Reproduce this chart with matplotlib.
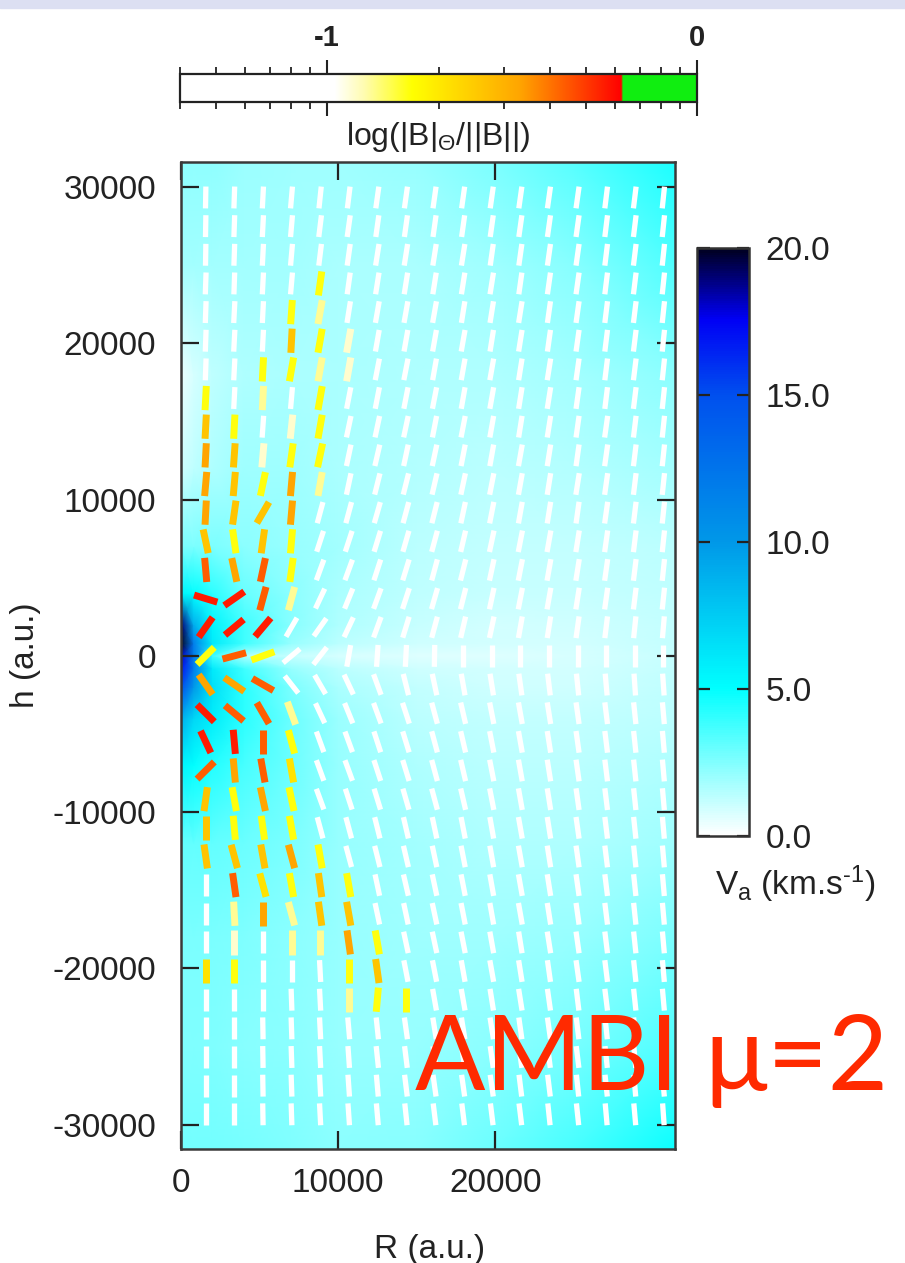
import numpy as np
import matplotlib
matplotlib.use('Agg')
import matplotlib.pyplot as plt
from matplotlib.colors import LinearSegmentedColormap, Normalize
from matplotlib.collections import LineCollection
from matplotlib.cm import ScalarMappable
from matplotlib.patches import Rectangle

plt.rcParams['font.family'] = ['Liberation Sans', 'DejaVu Sans']
plt.rcParams['axes.unicode_minus'] = False
plt.rcParams['mathtext.fontset'] = 'custom'
plt.rcParams['mathtext.rm'] = 'Liberation Sans'
plt.rcParams['mathtext.it'] = 'Liberation Sans:italic'

# ---------------- data ----------------
# Alfven speed V_a (km/s) on a coarse grid (rows: h from top to bottom)
bg_R = [0, 800, 2000, 4000, 7000, 10000, 15000, 20000, 25000, 31500]
bg_h = [31600, 25000, 18000, 12000, 7000, 4000, 2000, 800, 0,
        -800, -2000, -4000, -7000, -12000, -18000, -25000, -31600]
va_grid = [
    [2.2, 2.2, 2.2, 2.0, 1.9, 1.9, 2.1, 2.6, 3.3, 4.5],
    [1.8, 1.8, 1.8, 1.8, 1.8, 1.7, 1.7, 1.9, 2.4, 3.5],
    [0.4, 0.8, 1.3, 1.6, 1.7, 1.7, 1.6, 1.6, 1.8, 2.3],
    [1.0, 1.3, 1.6, 1.9, 1.9, 1.7, 1.5, 1.4, 1.5, 1.8],
    [2.6, 2.6, 2.6, 2.3, 2.1, 1.8, 1.4, 1.2, 1.2, 1.4],
    [5.5, 5.0, 4.2, 3.0, 2.3, 1.7, 1.3, 1.1, 1.1, 1.3],
    [19.0, 9.0, 5.5, 3.8, 2.4, 1.6, 1.1, 0.9, 1.0, 1.2],
    [20.0, 12.0, 6.0, 3.8, 2.1, 1.4, 1.0, 0.9, 0.9, 1.2],
    [18.0, 12.0, 3.8, 1.6, 1.1, 0.8, 0.7, 0.7, 0.8, 1.1],
    [17.0, 12.0, 6.0, 3.8, 2.1, 1.4, 1.0, 0.9, 0.9, 1.2],
    [15.0, 10.0, 6.5, 4.2, 2.6, 1.7, 1.2, 1.0, 1.0, 1.3],
    [9.0, 7.0, 5.8, 4.2, 2.9, 2.0, 1.4, 1.2, 1.2, 1.4],
    [5.5, 5.0, 4.3, 3.6, 2.9, 2.1, 1.6, 1.4, 1.4, 1.6],
    [3.1, 3.1, 3.1, 2.9, 2.6, 2.1, 1.8, 1.6, 1.6, 1.9],
    [2.6, 2.6, 2.6, 2.5, 2.3, 2.1, 1.9, 1.9, 2.1, 2.6],
    [2.5, 2.5, 2.5, 2.4, 2.3, 2.1, 2.1, 2.3, 2.7, 3.5],
    [2.8, 2.8, 2.8, 2.7, 2.5, 2.3, 2.4, 2.9, 3.6, 4.8],
]

# field-direction segments: grid of 17 columns x 33 rows
seg_R = np.linspace(1570, 30680, 17)
seg_h = np.linspace(29330, -29330, 33)

# tilt of each segment from vertical (deg, + means top leans to larger R)
tilt_deg = [
    [1, 2, 3, 5, 6, 7, 8, 8, 8, 8, 8, 8, 8, 8, 7, 7, 6],
    [1, 2, 3, 5, 7, 8, 8, 8, 8, 8, 8, 8, 8, 8, 7, 7, 6],
    [1, 2, 3, 5, 7, 8, 9, 9, 9, 9, 8, 8, 8, 8, 7, 7, 6],
    [2, 2, 3, 5, 8, 8, 9, 9, 9, 9, 9, 8, 8, 8, 7, 7, 6],
    [2, 3, 3, 4, 10, 9, 10, 10, 10, 9, 9, 9, 8, 8, 7, 7, 6],
    [2, 3, 3, 3, 10, 10, 10, 10, 10, 10, 9, 9, 8, 8, 7, 7, 6],
    [2, 3, 3, 10, 10, 10, 11, 11, 10, 10, 10, 9, 9, 8, 7, 7, 6],
    [3, 3, 3, 5, 10, 11, 11, 11, 11, 10, 10, 9, 9, 8, 7, 7, 6],
    [3, 3, 4, 6, 10, 12, 12, 12, 11, 11, 10, 9, 9, 8, 8, 7, 6],
    [3, 4, 5, 8, 12, 12, 13, 12, 12, 11, 10, 10, 9, 8, 8, 7, 6],
    [5, 5, 12, 5, 10, 12, 14, 14, 13, 12, 11, 10, 9, 9, 8, 7, 6],
    [3, 8, 30, 5, 15, 15, 16, 15, 14, 12, 11, 10, 9, 8, 8, 7, 6],
    [-12, -8, 8, 5, 18, 18, 17, 16, 15, 13, 12, 11, 10, 9, 8, 7, 6],
    [-5, -12, 12, 8, 20, 20, 18, 17, 15, 14, 12, 11, 10, 9, 8, 7, 6],
    [-73, 55, 15, 15, 25, 22, 20, 18, 16, 14, 12, 11, 10, 9, 8, 7, 6],
    [35, 50, 40, 30, 35, 25, 20, 17, 15, 13, 12, 10, 9, 8, 7, 6, 5],
    [45, 75, 70, 50, 38, 10, 4, 3, 1, 0, 0, 0, 0, 0, 0, 0, 0],
    [-35, -55, -60, -38, -30, -25, -20, -14, -12, -10, -9, -8, -7, -6, -5, -4, -4],
    [-45, -50, -30, -20, -25, -22, -20, -18, -15, -13, -11, -10, -9, -8, -7, -6, -5],
    [-25, -5, 0, -15, -20, -20, -18, -17, -15, -13, -11, -10, -9, -8, -7, -6, -5],
    [45, -5, -10, -10, -20, -20, -18, -17, -15, -13, -11, -10, -9, -8, -7, -6, -5],
    [8, -10, -12, -12, -20, -18, -17, -16, -15, -13, -11, -10, -9, -8, -7, -6, -5],
    [0, -5, -8, -10, -15, -15, -14, -13, -12, -11, -10, -10, -9, -8, -7, -6, -5],
    [-8, -15, -10, -15, -10, -15, -14, -13, -12, -11, -10, -10, -9, -8, -7, -6, -5],
    [0, -8, -15, -10, -8, -10, -12, -13, -12, -11, -10, -10, -9, -8, -7, -6, -5],
    [0, -3, 0, -15, -8, -10, -12, -12, -12, -11, -10, -10, -9, -8, -7, -6, -5],
    [0, 0, 0, 0, 0, -8, -10, -12, -12, -11, -10, -9, -9, -8, -7, -6, -5],
    [0, 0, 0, 0, -3, 0, -8, -11, -11, -10, -10, -9, -8, -8, -7, -6, -5],
    [0, 0, 0, -2, -3, 0, 5, 0, -10, -10, -9, -9, -8, -7, -7, -6, -5],
    [0, 0, -1, -2, -3, -5, -6, -8, -9, -9, -9, -8, -8, -7, -6, -6, -5],
    [0, 0, -1, -2, -3, -4, -6, -7, -8, -8, -8, -8, -7, -7, -6, -5, -5],
    [0, 0, -1, -2, -3, -4, -5, -7, -8, -8, -8, -7, -7, -6, -6, -5, -5],
    [0, 0, -1, -2, -3, -4, -5, -6, -7, -7, -7, -7, -6, -6, -5, -5, -4],
]

# log(|B|_theta/||B||) class of each segment ('.' = below -1, white)
ratio_class = [
    "", "", "",
    "....3",
    "...32",
    "...531",
    "..3321",
    "3.2.3",
    "53.13",
    "65133",
    "65362",
    "6556",
    "5353",
    "7673",
    "8872",
    "888",
    "373",
    "667",
    "8772",
    "8873",
    "7674",
    "5363",
    "5333",
    "55563",
    ".74353",
    ".26255",
    ".1.2263",
    "43...35",
    ".....233",
    "", "", "", "",
]
class_value = {'.': -1.25, '1': -0.93, '2': -0.88, '3': -0.78, '4': -0.68,
               '5': -0.58, '6': -0.48, '7': -0.36, '8': -0.25}

va_ticks = [0, 5, 10, 15, 20]
ratio_major = [0.1, 1.0]
ratio_minor = [0.04, 0.05, 0.06, 0.07, 0.08, 0.09,
               0.2, 0.3, 0.4, 0.5, 0.6, 0.7, 0.8, 0.9]

# ---------------- colormaps ----------------
va_cmap = LinearSegmentedColormap.from_list('va', [
    (0.0, '#ffffff'), (0.25, '#00ffff'), (0.5, '#0098e8'),
    (0.75, '#0050ee'), (0.88, '#0000f5'), (1.0, '#000020')])
va_norm = Normalize(0, 20)

rmin = np.log10(0.04)
def pos(v):
    return (v - rmin) / (0 - rmin)
ratio_cmap = LinearSegmentedColormap.from_list('ratio', [
    (0.0, '#ffffff'), (pos(-0.98), '#ffffff'), (pos(-0.9), '#fffcb0'),
    (pos(-0.77), '#ffff00'), (pos(-0.48), '#ffa500'), (pos(-0.205), '#ff0000'),
    (pos(-0.2), '#10ee10'), (1.0, '#10ee10')], N=2048)
ratio_norm = Normalize(rmin, 0)

# ---------------- figure ----------------
fig = plt.figure(figsize=(9.05, 12.63), dpi=100)
fig.add_artist(Rectangle((0, 1 - 8 / 1263), 1, 8 / 1263, transform=fig.transFigure,
                         color='#dcdff2', zorder=0))

ax = fig.add_axes([0.2, 0.09026, 0.54586, 0.78147])
Rg = np.array(bg_R, float)
hg = np.array(bg_h[::-1], float)
Vg = np.array(va_grid[::-1], float)
ax.pcolormesh(Rg, hg, Vg, shading='gouraud', cmap=va_cmap, norm=va_norm, zorder=0)

white_segs, col_segs, col_colors = [], [], []
for j, hj in enumerate(seg_h):
    row = ratio_class[j].ljust(17, '.')
    for i, Ri in enumerate(seg_R):
        a = np.deg2rad(tilt_deg[j][i])
        c = row[i]
        L = 1400 if c == '.' else 1550
        dx, dy = 0.5 * L * np.sin(a), 0.5 * L * np.cos(a)
        seg = [(Ri - dx, hj - dy), (Ri + dx, hj + dy)]
        if c == '.':
            white_segs.append(seg)
        else:
            col_segs.append(seg)
            col_colors.append(ratio_cmap(ratio_norm(class_value[c])))

ax.add_collection(LineCollection(white_segs, colors='white', linewidths=3.8,
                                 capstyle='butt', zorder=2))
ax.add_collection(LineCollection(col_segs, colors=col_colors, linewidths=5.0,
                                 capstyle='butt', zorder=3))

ax.set_xlim(0, 31420)
ax.set_ylim(-31550, 31600)
ax.set_xticks([0, 10000, 20000])
ax.set_yticks([-30000, -20000, -10000, 0, 10000, 20000, 30000])
ax.tick_params(direction='in', length=13, width=1.6, top=True, right=True,
               labelsize=24, colors='#222222')
ax.tick_params(axis='x', pad=14)
ax.tick_params(axis='y', pad=18)
for sp in ax.spines.values():
    sp.set_linewidth(1.8)
    sp.set_color('#3a3a3a')
ax.set_xlabel('R (a.u.)', fontsize=24, color='#222222')
ax.xaxis.set_label_coords(0.504, -0.102)
ax.xaxis.label.set_va('center')
ax.set_ylabel('h (a.u.)', fontsize=24, color='#222222')
ax.yaxis.set_label_coords(-0.315, 0.5)
ax.yaxis.label.set_va('center')

# right colorbar: V_a
cax = fig.add_axes([0.77017, 0.33808, 0.05746, 0.46556])
cb = fig.colorbar(ScalarMappable(va_norm, va_cmap), cax=cax, orientation='vertical')
cb.set_ticks(va_ticks)
cb.set_ticklabels(['%.1f' % t for t in va_ticks])
cb.outline.set_linewidth(1.8)
cb.outline.set_edgecolor('#333333')
cax.yaxis.set_ticks_position('both')
cax.tick_params(direction='in', length=9, width=1.6, left=True, right=True,
                labelleft=False, labelright=True, labelsize=24, pad=12,
                colors='#222222')
cax.set_xlabel(r'V$_\mathregular{a}$ (km.s$^{\text{-}1}$)', fontsize=24,
               color='#222222')
cax.xaxis.set_label_coords(1.885, -0.082)
cax.xaxis.label.set_va('center')

# top colorbar: log(|B|_theta/||B||)
tax = fig.add_axes([0.1989, 0.91924, 0.57127, 0.02217])
tb = fig.colorbar(ScalarMappable(ratio_norm, ratio_cmap), cax=tax, orientation='horizontal')
tb.set_ticks(np.log10(ratio_major))
tb.set_ticklabels(['-1', '0'])
tb.set_ticks(np.log10(ratio_minor), minor=True)
tb.outline.set_linewidth(1.6)
tb.outline.set_edgecolor('#222222')
tax.xaxis.set_ticks_position('both')
tax.tick_params(axis='x', which='major', direction='out', length=10, width=1.5,
                top=True, bottom=True, labeltop=True, labelbottom=False,
                labelsize=21, pad=6, colors='#222222')
tax.tick_params(axis='x', which='minor', direction='out', length=5, width=1.3,
                top=True, bottom=True, colors='#222222')
for lab in tax.get_xticklabels():
    lab.set_fontweight('bold')
tax.xaxis.set_label_position('bottom')
tax.set_xlabel(r'log(|B|$_\Theta$/||B||)', fontsize=23, labelpad=3, color='#222222')

fig.text(415 / 905, 1 - 1090 / 1263, 'AMBI \u03bc=2', family=['Lato', 'DejaVu Sans'],
         fontsize=75, color='#ff2a00', ha='left', va='baseline')

fig.savefig('out.png', dpi=100)
